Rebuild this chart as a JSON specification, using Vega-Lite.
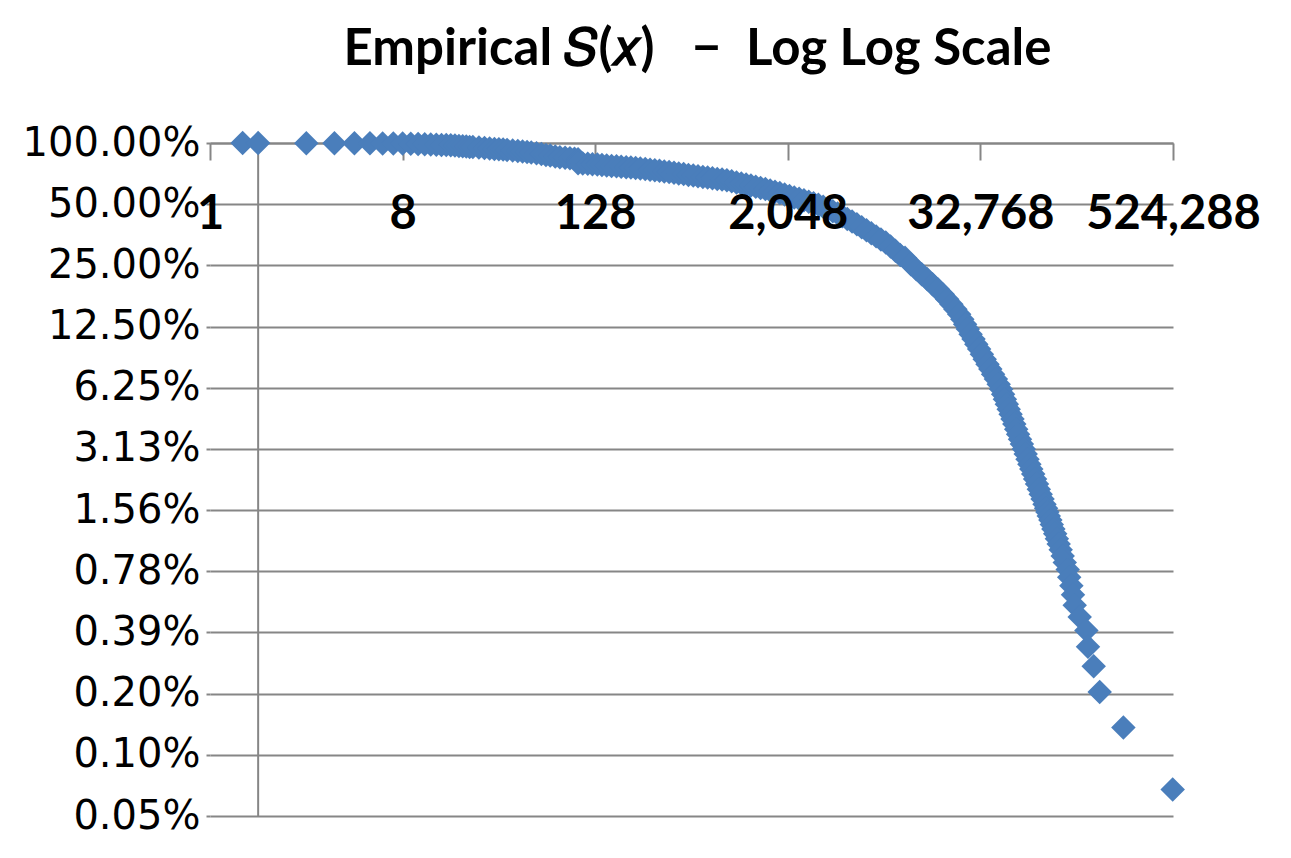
{
  "$schema": "https://vega.github.io/schema/vega-lite/v6.json",
  "width": 963,
  "height": 673,
  "autosize": {"type": "none"},
  "padding": {"left": 210, "top": 143, "right": 118, "bottom": 42},
  "background": "white",
  "config": {"view": {"stroke": null}},
  "title": {
    "text": "Empirical \ud835\udc46(\ud835\udc65)\u00a0\u00a0\u00a0\u2212\u00a0\u00a0Log Log Scale",
    "font": "Lato",
    "fontSize": 51,
    "fontWeight": "bold",
    "color": "black",
    "anchor": "middle",
    "baseline": "alphabetic",
    "offset": 7,
    "dx": 6
  },
  "layer": [
    {
      "data": {"values": [{"cross": 1}]},
      "mark": {"type": "rule", "color": "#868686", "strokeWidth": 2},
      "encoding": {
        "x": {
          "field": "cross",
          "type": "quantitative",
          "scale": {"type": "log", "base": 2, "domain": [0.5, 524288], "nice": false},
          "axis": {
            "orient": "bottom",
            "offset": -673,
            "values": [0.5, 8, 128, 2048, 32768, 524288],
            "domain": true,
            "domainColor": "#868686",
            "domainWidth": 2,
            "ticks": true,
            "tickColor": "#868686",
            "tickWidth": 2,
            "tickSize": 17,
            "labels": false,
            "grid": false,
            "title": null,
            "zindex": 0
          }
        }
      }
    },
    {
      "data": {"values": [
        {"x": 0.8, "s": 0.9993}, {"x": 1, "s": 0.9987}, {"x": 2, "s": 0.998}, {"x": 3, "s": 0.9973},
        {"x": 4, "s": 0.9967}, {"x": 5, "s": 0.996}, {"x": 6, "s": 0.9953}, {"x": 7, "s": 0.9947},
        {"x": 8, "s": 0.99435}, {"x": 9, "s": 0.9921}, {"x": 10, "s": 0.9893}, {"x": 11, "s": 0.9865},
        {"x": 12, "s": 0.9843}, {"x": 13, "s": 0.9809}, {"x": 14, "s": 0.9787}, {"x": 15, "s": 0.9765},
        {"x": 16, "s": 0.9743}, {"x": 17, "s": 0.971}, {"x": 18, "s": 0.9666}, {"x": 19, "s": 0.9633},
        {"x": 20, "s": 0.9601}, {"x": 21, "s": 0.9568}, {"x": 22, "s": 0.9546}, {"x": 24, "s": 0.9493},
        {"x": 26, "s": 0.9439}, {"x": 28, "s": 0.9396}, {"x": 30, "s": 0.9354}, {"x": 32, "s": 0.9322},
        {"x": 34, "s": 0.928}, {"x": 36, "s": 0.9248}, {"x": 39, "s": 0.9186}, {"x": 42, "s": 0.9134},
        {"x": 45, "s": 0.9082}, {"x": 48, "s": 0.9041}, {"x": 51, "s": 0.898}, {"x": 55, "s": 0.8899},
        {"x": 59, "s": 0.8819}, {"x": 63, "s": 0.8739}, {"x": 67, "s": 0.867}, {"x": 72, "s": 0.8592},
        {"x": 77, "s": 0.8514}, {"x": 83, "s": 0.8466}, {"x": 89, "s": 0.8418}, {"x": 95, "s": 0.8371},
        {"x": 100, "s": 0.8324}, {"x": 100, "s": 0.8137}, {"x": 100, "s": 0.7955}, {"x": 107, "s": 0.7928},
        {"x": 115, "s": 0.7901}, {"x": 123, "s": 0.7865}, {"x": 132, "s": 0.783}, {"x": 141, "s": 0.7795},
        {"x": 151, "s": 0.7759}, {"x": 162, "s": 0.7716}, {"x": 174, "s": 0.7681}, {"x": 186, "s": 0.7646},
        {"x": 200, "s": 0.7603}, {"x": 214, "s": 0.7568}, {"x": 229, "s": 0.7526}, {"x": 245, "s": 0.7483},
        {"x": 263, "s": 0.7441}, {"x": 282, "s": 0.7391}, {"x": 302, "s": 0.7349}, {"x": 323, "s": 0.7307},
        {"x": 346, "s": 0.725}, {"x": 371, "s": 0.7192}, {"x": 398, "s": 0.7136}, {"x": 426, "s": 0.7087},
        {"x": 457, "s": 0.7031}, {"x": 490, "s": 0.6968}, {"x": 525, "s": 0.6913}, {"x": 562, "s": 0.6866},
        {"x": 603, "s": 0.6812}, {"x": 646, "s": 0.6758}, {"x": 692, "s": 0.6712}, {"x": 742, "s": 0.6659},
        {"x": 795, "s": 0.6614}, {"x": 852, "s": 0.6562}, {"x": 913, "s": 0.6481}, {"x": 979, "s": 0.64},
        {"x": 1049, "s": 0.6328}, {"x": 1124, "s": 0.625}, {"x": 1205, "s": 0.6173}, {"x": 1291, "s": 0.6089},
        {"x": 1384, "s": 0.6014}, {"x": 1483, "s": 0.5933}, {"x": 1590, "s": 0.5846}, {"x": 1704, "s": 0.576},
        {"x": 1826, "s": 0.567}, {"x": 1957, "s": 0.5581}, {"x": 2098, "s": 0.5493}, {"x": 2248, "s": 0.54},
        {"x": 2410, "s": 0.5315}, {"x": 2583, "s": 0.5232}, {"x": 2768, "s": 0.5144}, {"x": 2967, "s": 0.5057},
        {"x": 3180, "s": 0.4972}, {"x": 3408, "s": 0.486}, {"x": 3653, "s": 0.4741}, {"x": 3915, "s": 0.4619},
        {"x": 4196, "s": 0.4495}, {"x": 4497, "s": 0.4365}, {"x": 4820, "s": 0.4233}, {"x": 5166, "s": 0.4105},
        {"x": 5537, "s": 0.3982}, {"x": 5934, "s": 0.3849}, {"x": 6360, "s": 0.372}, {"x": 6817, "s": 0.3596},
        {"x": 7306, "s": 0.3472}, {"x": 7830, "s": 0.3352}, {"x": 8392, "s": 0.3236}, {"x": 8994, "s": 0.3097},
        {"x": 9640, "s": 0.2953}, {"x": 10332, "s": 0.2812}, {"x": 11073, "s": 0.2725}, {"x": 12034, "s": 0.2534},
        {"x": 13025, "s": 0.2395}, {"x": 14076, "s": 0.2263}, {"x": 15259, "s": 0.2139}, {"x": 16445, "s": 0.2021},
        {"x": 17751, "s": 0.1909}, {"x": 19046, "s": 0.1804}, {"x": 20316, "s": 0.1705}, {"x": 21586, "s": 0.1611},
        {"x": 22864, "s": 0.1522}, {"x": 24152, "s": 0.1438}, {"x": 25254, "s": 0.1359}, {"x": 26293, "s": 0.1284},
        {"x": 27334, "s": 0.1214}, {"x": 28456, "s": 0.1147}, {"x": 29671, "s": 0.1084}, {"x": 30889, "s": 0.1024},
        {"x": 32162, "s": 0.0968}, {"x": 33483, "s": 0.0914}, {"x": 34859, "s": 0.0864}, {"x": 36294, "s": 0.0816},
        {"x": 37786, "s": 0.0772}, {"x": 39338, "s": 0.0729}, {"x": 40957, "s": 0.0689}, {"x": 42644, "s": 0.0651},
        {"x": 44204, "s": 0.0615}, {"x": 45430, "s": 0.0581}, {"x": 46619, "s": 0.0549}, {"x": 47913, "s": 0.0519},
        {"x": 49242, "s": 0.049}, {"x": 50610, "s": 0.0463}, {"x": 52011, "s": 0.0438}, {"x": 53377, "s": 0.0414},
        {"x": 54858, "s": 0.0391}, {"x": 56378, "s": 0.0369}, {"x": 57942, "s": 0.0349}, {"x": 59550, "s": 0.033},
        {"x": 61202, "s": 0.0312}, {"x": 62897, "s": 0.0295}, {"x": 64553, "s": 0.0278}, {"x": 66331, "s": 0.0263},
        {"x": 68170, "s": 0.0249}, {"x": 70058, "s": 0.0235}, {"x": 72003, "s": 0.0222}, {"x": 74003, "s": 0.021},
        {"x": 75943, "s": 0.0198}, {"x": 78047, "s": 0.0187}, {"x": 80210, "s": 0.0177}, {"x": 82431, "s": 0.0167},
        {"x": 84340, "s": 0.01595}, {"x": 85937, "s": 0.01528}, {"x": 87680, "s": 0.01462}, {"x": 89740, "s": 0.01395},
        {"x": 91566, "s": 0.01329}, {"x": 93703, "s": 0.01262}, {"x": 96161, "s": 0.01196}, {"x": 98547, "s": 0.0113},
        {"x": 101128, "s": 0.01063}, {"x": 104078, "s": 0.00997}, {"x": 107120, "s": 0.0093}, {"x": 110406, "s": 0.00864},
        {"x": 115112, "s": 0.00797}, {"x": 117628, "s": 0.00731}, {"x": 121412, "s": 0.00664}, {"x": 124240, "s": 0.00598},
        {"x": 127316, "s": 0.00532}, {"x": 136813, "s": 0.00465}, {"x": 150668, "s": 0.00399}, {"x": 154180, "s": 0.00332},
        {"x": 167390, "s": 0.00266}, {"x": 182466, "s": 0.00199}, {"x": 256613, "s": 0.00133}, {"x": 521876, "s": 0.00066}
      ]},
      "mark": {"type": "point", "shape": "diamond", "filled": true, "size": 600, "color": "#4A7EBB", "opacity": 1, "strokeWidth": 0},
      "encoding": {
        "x": {
          "field": "x",
          "type": "quantitative",
          "scale": {"type": "log", "base": 2, "domain": [0.5, 524288], "nice": false},
          "axis": {
            "orient": "bottom",
            "offset": -673,
            "values": [0.5, 8, 128, 2048, 32768, 524288],
            "format": ",d",
            "domain": false,
            "ticks": false,
            "tickSize": 0,
            "grid": false,
            "labels": true,
            "labelFont": "Lato",
            "labelFontSize": 47,
            "labelFontWeight": "bold",
            "labelColor": "black",
            "labelBaseline": "alphabetic",
            "labelPadding": 85,
            "labelFlush": false,
            "labelOverlap": false,
            "labelBound": false,
            "title": null,
            "zindex": 1
          }
        },
        "y": {
          "field": "s",
          "type": "quantitative",
          "scale": {"type": "log", "base": 2, "domain": [0.00048828125, 1], "nice": false},
          "axis": {
            "orient": "left",
            "values": [1, 0.5, 0.25, 0.125, 0.0625, 0.03125, 0.015625, 0.0078125, 0.00390625, 0.001953125, 0.0009765625, 0.00048828125],
            "format": ".2%",
            "grid": true,
            "gridColor": "#868686",
            "gridWidth": 2,
            "domain": false,
            "ticks": true,
            "tickSize": 4,
            "tickColor": "#868686",
            "tickWidth": 2,
            "labelFont": "DejaVu Sans",
            "labelFontSize": 40,
            "labelColor": "black",
            "labelPadding": 6,
            "labelFlush": false,
            "labelOverlap": false,
            "labelBound": false,
            "title": null,
            "zindex": 0
          }
        }
      }
    }
  ],
  "resolve": {"axis": {"x": "independent"}}
}
